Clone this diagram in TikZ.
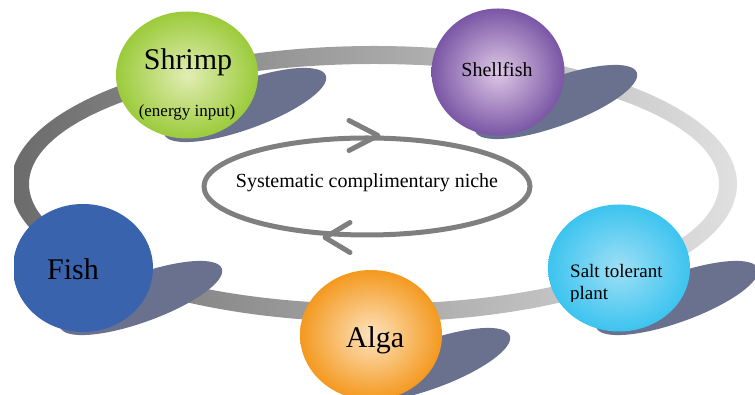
\documentclass[tikz,border=0pt]{standalone}
\usepackage{fontspec}
\setmainfont{Liberation Serif}
\usetikzlibrary{shapes.geometric}

\definecolor{ringdark}{HTML}{6B6B6B}
\definecolor{ringlight}{HTML}{E0E0E0}
\definecolor{nichecol}{HTML}{7F7F7F}
\definecolor{shadowcol}{HTML}{69718F}
\definecolor{shrimpout}{HTML}{9BCB3B}
\definecolor{shrimpin}{HTML}{E2EDB4}
\definecolor{shellout}{HTML}{7A56A5}
\definecolor{shellin}{HTML}{DEC8E6}
\definecolor{fishcol}{HTML}{3A63AD}
\definecolor{algaout}{HTML}{F4991F}
\definecolor{algain}{HTML}{FDE3BE}
\definecolor{saltout}{HTML}{3CC4EF}
\definecolor{saltin}{HTML}{9FDFF6}

\begin{document}
\begin{tikzpicture}[x=1pt, y=1pt,
    blob/.style={ellipse, inner sep=0pt, minimum width=142pt, minimum height=127pt},
    bigtxt/.style={anchor=base, inner sep=0pt, font=\fontsize{30}{36}\selectfont},
    smalltxt/.style={anchor=base, inner sep=0pt, font=\fontsize{19}{22}\selectfont}]
    \useasboundingbox (0,0) rectangle (755,395);
    \clip (14,0) rectangle (755,395);
    % outer ring
    \shade[even odd rule, left color=ringdark, right color=ringlight]
        (374,211) ellipse [x radius=363, y radius=138]
        (374,211) ellipse [x radius=345, y radius=120];
    % centres of the circles
    \coordinate (cshrimp) at (187,320);
    \coordinate (cshell) at (498,323);
    \coordinate (cfish) at (83,127);
    \coordinate (calga) at (371,60);
    \coordinate (csalt) at (619,127);
    % shadows
    \foreach \c in {cshrimp,cshell,cfish,calga,csalt}
        \fill[shadowcol] ([shift={(58,-30)}]\c) ellipse [x radius=86, y radius=24, rotate=20];
    % circles
    \node[blob, inner color=shrimpin, outer color=shrimpout] (shrimp) at (cshrimp) {};
    \node[blob, inner color=shellin, outer color=shellout, minimum width=133pt] (shell) at (cshell) {};
    \node[blob, fill=fishcol, minimum width=140pt, minimum height=128pt] (fish) at (cfish) {};
    \node[blob, inner color=algain, outer color=algaout, minimum height=130pt] (alga) at (calga) {};
    \node[blob, inner color=saltin, outer color=saltout] (salt) at (csalt) {};
    % labels
    \node[bigtxt] (shrimptxt) at ([shift={(1,5)}]shrimp.center) {Shrimp};
    \node[anchor=base, inner sep=0pt, font=\fontsize{17}{20}\selectfont] (energytxt) at ([shift={(0,-42)}]shrimp.center) {(energy input)};
    \node[anchor=base, inner sep=0pt, font=\fontsize{20}{24}\selectfont] (shelltxt) at ([shift={(-1,-5)}]shell.center) {Shellfish};
    \node[bigtxt] (fishtxt) at ([shift={(-10,-12)}]fish.center) {Fish};
    \node[bigtxt] (algatxt) at ([shift={(4,-13)}]alga.center) {Alga};
    \node[smalltxt, anchor=base west] (salttxt) at ([shift={(-49,-10)}]salt.center) {Salt tolerant};
    \begin{scope}
        \clip (0,93) rectangle (755,395);
        \node[smalltxt, anchor=base west] (planttxt) at ([shift={(-49,-32)}]salt.center) {plant};
    \end{scope}
    % inner cycle
    \node[ellipse, draw=nichecol, line width=5pt, inner sep=0pt,
          minimum width=326pt, minimum height=97pt] (niche) at (367,208.5) {};
    \node[inner sep=0pt, font=\fontsize{20}{24}\selectfont] (nichetxt) at ([yshift=4]niche.center) {Systematic complimentary niche};
    \draw[nichecol, line width=5pt, line cap=round, line join=round]
        ([shift={(-18,15)}]niche.north) -- ([xshift=11]niche.north) -- ([shift={(-18,-15)}]niche.north);
    \draw[nichecol, line width=5pt, line cap=round, line join=round]
        ([shift={(-17,15)}]niche.south) -- ([xshift=-42]niche.south) -- ([shift={(-17,-15)}]niche.south);
\end{tikzpicture}
\end{document}
